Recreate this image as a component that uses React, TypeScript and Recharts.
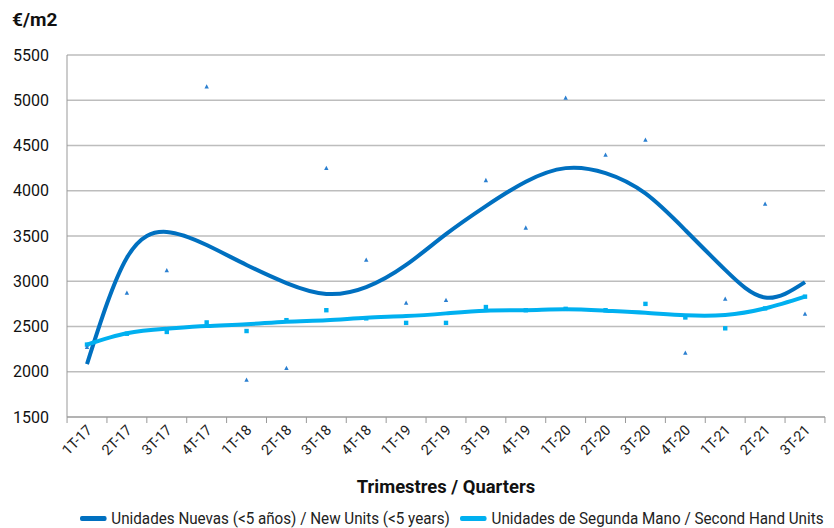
import { ComposedChart, Line, XAxis, YAxis, CartesianGrid, Label } from 'recharts';

const quarters = [
  '1T-17', '2T-17', '3T-17', '4T-17', '1T-18', '2T-18', '3T-18', '4T-18', '1T-19', '2T-19',
  '3T-19', '4T-19', '1T-20', '2T-20', '3T-20', '4T-20', '1T-21', '2T-21', '3T-21',
];

// raw points
const nuevas = [2270, 2870, 3120, 5150, 1910, 2040, 4250, 3235, 2760, 2790, 4115, 3590, 5025, 4395, 4560, 2207, 2804, 3854, 2638];
const segunda = [2300, 2420, 2440, 2545, 2450, 2570, 2680, 2590, 2540, 2540, 2715, 2680, 2695, 2680, 2750, 2600, 2480, 2700, 2830];

// trend lines
const nuevasTrend = [2085, 3260, 3545, 3400, 3180, 2980, 2860, 2935, 3180, 3520, 3830, 4100, 4250, 4195, 3970, 3565, 3125, 2820, 2990];
const segundaTrend = [2300, 2425, 2475, 2505, 2525, 2553, 2570, 2597, 2615, 2645, 2675, 2680, 2690, 2675, 2652, 2624, 2627, 2700, 2830];

const yTicks = [1500, 2000, 2500, 3000, 3500, 4000, 4500, 5000, 5500];

const NEW_COLOR = '#0070C0';
const USED_COLOR = '#00B0F0';

const data = quarters.map((q, i) => ({
  q,
  nuevas: nuevas[i],
  segunda: segunda[i],
  nuevasTrend: nuevasTrend[i],
  segundaTrend: segundaTrend[i],
}));

const Triangle = (props: any) => {
  const { cx, cy, index } = props;
  if (cx == null || cy == null) return <g key={`t-${index}`} />;
  return <path key={`t-${index}`} d={`M${cx},${cy - 2.5} L${cx + 2.2},${cy + 1.8} L${cx - 2.2},${cy + 1.8} Z`} fill="#2a7fd0" />;
};

const Square = (props: any) => {
  const { cx, cy, index } = props;
  if (cx == null || cy == null) return <g key={`s-${index}`} />;
  return <rect key={`s-${index}`} x={cx - 2.2} y={cy - 2.2} width={4.4} height={4.4} fill={USED_COLOR} />;
};

const XTick = (props: any) => {
  const { x, y, payload, index } = props;
  const half = 758 / quarters.length / 2;
  return (
    <g>
      <line x1={x - half} y1={y - 8} x2={x - half} y2={y - 2} stroke="#999" />
      {index === quarters.length - 1 && (
        <line x1={x + half} y1={y - 8} x2={x + half} y2={y - 2} stroke="#999" />
      )}
      <text
        x={x + 6}
        y={y + 6}
        transform={`rotate(-45 ${x + 6} ${y + 6})`}
        textAnchor="end"
        fontSize={14.5}
        fill="#222"
        fontFamily="Roboto"
      >
        {payload.value}
      </text>
    </g>
  );
};

export default function App() {
  return (
    <div style={{ position: 'absolute', left: 0, top: 0, width: 834, height: 528, background: '#fff', fontFamily: 'Roboto' }}>
      <div style={{ position: 'absolute', left: 12, top: 8, fontSize: 19, fontWeight: 700, color: '#111' }}>€/m2</div>
      <ComposedChart width={834} height={528} data={data} margin={{ top: 55, right: 9, bottom: 33, left: 0 }}>
        <CartesianGrid vertical={false} stroke="#bdbdbd" strokeWidth={1.3} />
        <XAxis
          dataKey="q"
          tick={<XTick />}
          tickLine={false}
          axisLine={{ stroke: '#999' }}
          interval={0}
          height={78}
          padding={{ left: 20, right: 20 }}
        >
          <Label
            content={(p: any) => {
              const vb = p.viewBox;
              const cx = vb.x + vb.width / 2;
              return (
                <text
                  x={cx}
                  y={vb.y + 76}
                  textAnchor="middle"
                  fontSize={19}
                  fontWeight={700}
                  fill="#111"
                  fontFamily="Roboto"
                  transform={`translate(${cx} 0) scale(0.97 1) translate(${-cx} 0)`}
                >
                  Trimestres / Quarters
                </text>
              );
            }}
          />
        </XAxis>
        <YAxis
          width={67}
          domain={[1500, 5500]}
          ticks={yTicks}
          tickLine={false}
          axisLine={{ stroke: '#999' }}
          tick={{ fontSize: 16, fill: '#111', fontFamily: 'Roboto' }}
          tickMargin={12}
        />
        <Line dataKey="segunda" stroke="none" dot={Square} isAnimationActive={false} legendType="none" />
        <Line dataKey="nuevas" stroke="none" dot={Triangle} isAnimationActive={false} legendType="none" />
        <Line type="natural" dataKey="nuevasTrend" stroke={NEW_COLOR} strokeWidth={4} dot={false} isAnimationActive={false} />
        <Line type="natural" dataKey="segundaTrend" stroke={USED_COLOR} strokeWidth={4} dot={false} isAnimationActive={false} />
      </ComposedChart>
      <div
        style={{
          position: 'absolute',
          left: 80,
          top: 509,
          fontSize: 16,
          color: '#222',
          display: 'flex',
          alignItems: 'center',
          whiteSpace: 'nowrap',
          transform: 'scaleX(0.95)',
          transformOrigin: 'left center',
        }}
      >
        <span style={{ display: 'inline-block', width: 28, height: 5, background: NEW_COLOR, borderRadius: 2, marginRight: 5 }} />
        <span>Unidades Nuevas (&lt;5 años) / New Units (&lt;5 years)</span>
        <span style={{ display: 'inline-block', width: 28, height: 5, background: USED_COLOR, borderRadius: 2, marginLeft: 11, marginRight: 5 }} />
        <span>Unidades de Segunda Mano / Second Hand Units</span>
      </div>
    </div>
  );
}
